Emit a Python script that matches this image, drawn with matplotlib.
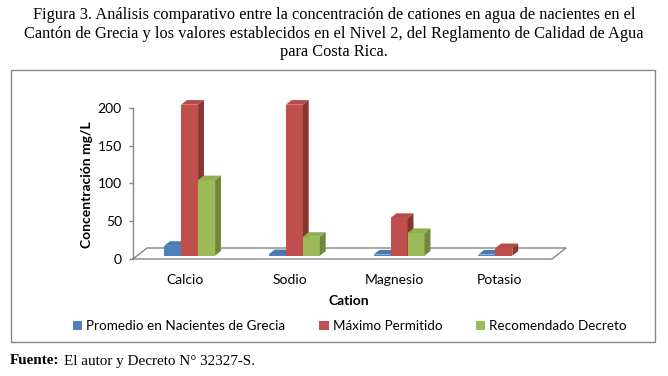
import matplotlib
matplotlib.use("Agg")
import matplotlib.pyplot as plt
from matplotlib.patches import Polygon, Rectangle, Patch

# ---- data ----
categories = ["Calcio", "Sodio", "Magnesio", "Potasio"]
series_names = ["Promedio en Nacientes de Grecia", "Máximo Permitido", "Recomendado Decreto"]
promedio = [13, 2, 1.5, 1.5]
maximo = [200, 200, 50, 10]
recomendado = [100, 25, 30, 0]
yticks = [0, 50, 100, 150, 200]

title_lines = [
    "Figura 3. Análisis comparativo entre la concentración de cationes en agua de nacientes en el",
    "Cantón de Grecia y los valores establecidos en el Nivel 2, del Reglamento de Calidad de Agua",
    "para Costa Rica.",
]

# ---- styles ----
front_cols = ["#4F81BD", "#C0504D", "#9BBB59"]
top_cols = ["#4A78B0", "#B54A47", "#91B052"]
side_cols = ["#395E8C", "#8A3532", "#6F883D"]
gray = "#868686"
sans = ["Lato", "DejaVu Sans"]
serif = ["Liberation Serif", "DejaVu Serif"]

W, H = 668, 376
fig = plt.figure(figsize=(W / 100, H / 100), dpi=100)

# figure frame
fig.add_artist(Rectangle((11 / W, 1 - 342 / H), 644 / W, 272 / H, transform=fig.transFigure,
                         fill=False, edgecolor=gray, lw=1.0))

ax_l, ax_r, ax_b, ax_t = 133, 552, 259, 108
ax = fig.add_axes([ax_l / W, 1 - ax_b / H, (ax_r - ax_l) / W, (ax_b - ax_t) / H])
ax.set_xlim(-0.5, len(categories) - 0.5)
ax.set_ylim(0, 200)
ux = (len(categories)) / (ax_r - ax_l)   # data per px (x)
uy = 200 / (ax_b - ax_t)                # data per px (y)

for s in ["top", "right", "bottom"]:
    ax.spines[s].set_visible(False)
ax.spines["left"].set_color(gray)
ax.spines["left"].set_linewidth(1.0)

# floor parallelogram
fdx, fdy = 14 * ux, 11 * uy
x0, x1 = -0.5, len(categories) - 0.5
ax.plot([x0, x1, x1 + fdx, x0 + fdx, x0], [0, 0, fdy, fdy, 0], color=gray, lw=1.0,
        clip_on=False, zorder=1)

# 3D bars
d_front, d_back = 0.30, 0.72
bw = 17 * ux
series = [promedio, maximo, recomendado]
z = 2
for i in range(len(categories)):
    for k, vals in enumerate(series):
        v = vals[i]
        if v <= 0:
            continue
        xl = i + (k - 1) * bw - bw / 2 + fdx * d_front
        xr = xl + bw
        base = fdy * d_front
        top = base + v
        ddx = fdx * (d_back - d_front)
        ddy = fdy * (d_back - d_front)
        ax.bar(xl, v, width=bw, bottom=base, align="edge", color=front_cols[k],
               lw=0, zorder=z, clip_on=False)
        ax.add_patch(Polygon([(xl, top), (xr, top), (xr + ddx, top + ddy), (xl + ddx, top + ddy)],
                             closed=True, facecolor=top_cols[k], lw=0, zorder=z, clip_on=False))
        ax.add_patch(Polygon([(xr, base), (xr + ddx, base + ddy), (xr + ddx, top + ddy), (xr, top)],
                             closed=True, facecolor=side_cols[k], lw=0, zorder=z, clip_on=False))
        z += 1

ax.set_yticks(yticks)
ax.set_yticklabels([str(t) for t in yticks], fontsize=10, family=sans)
ax.tick_params(axis="y", direction="out", length=3, width=1, color=gray, pad=5)
ax.set_xticks(range(len(categories)))
ax.set_xticklabels(categories, fontsize=10, family=sans)
ax.tick_params(axis="x", length=0, pad=11)

fig.text(87 / W, 1 - 185 / H, "Concentración mg/L", rotation=90, ha="center", va="center",
         fontsize=10, fontweight="bold", family=sans)
fig.text(349 / W, 1 - 301 / H, "Cation", ha="center", va="center",
         fontsize=10, fontweight="bold", family=sans)

handles = [Patch(facecolor=c, edgecolor="none") for c in front_cols]
leg = fig.legend(handles, series_names, loc="center", bbox_to_anchor=(350 / W, 1 - 326 / H),
                 ncol=3, frameon=False, prop={"family": sans, "size": 9.7},
                 handlelength=0.7, handleheight=0.7, handletextpad=0.3, columnspacing=2.5)

for j, line in enumerate(title_lines):
    fig.text(0.5 * (14 + 654) / W, 1 - (15 + 18.5 * j) / H, line, ha="center", va="center",
             fontsize=11.8, family=serif)

t1 = fig.text(10 / W, 1 - 361 / H, "Fuente:", ha="left", va="center", fontsize=10.9,
              fontweight="bold", family=serif)
fig.canvas.draw()
bb = t1.get_window_extent()
fig.text((bb.x1 + 4) / W, 1 - 361 / H, "El autor y Decreto N° 32327-S.", ha="left", va="center",
         fontsize=10.9, family=serif)

fig.savefig("out.png", dpi=100, facecolor="white")
